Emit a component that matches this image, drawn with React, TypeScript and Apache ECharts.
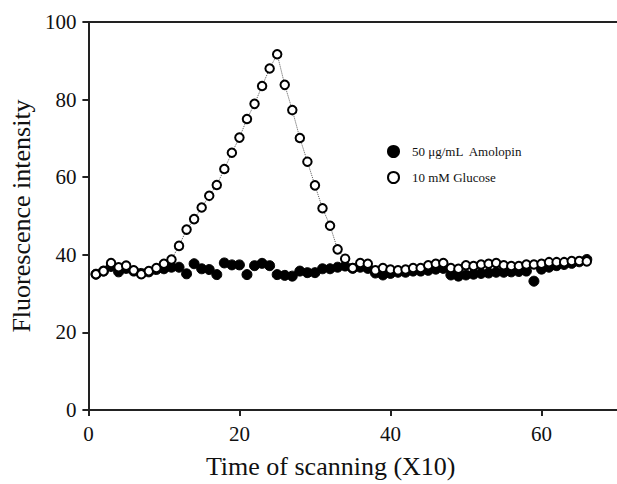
import React, { useEffect, useRef } from "react";
import * as echarts from "echarts";

const scanIndex: number[] = Array.from({ length: 66 }, (_, k) => k + 1);

const amolopin: number[] = [
  35, 35.8, 37, 35.6, 36.5, 35.8, 35.2, 35.6, 36.2, 36.4,
  36.8, 36.8, 35.1, 37.7, 36.4, 36.2, 34.9, 37.9, 37.4, 37.4,
  34.9, 37.2, 37.8, 37.2, 34.9, 34.7, 34.5, 35.8, 35.4, 35.4,
  36.4, 36.4, 36.8, 37.1, 36.5, 36.8, 36.5, 35.3, 34.8, 35.2,
  35.5, 35.5, 35.8, 35.8, 36, 36.3, 36.5, 34.8, 34.5, 34.8,
  35, 35.2, 35.3, 35.5, 35.5, 35.6, 35.7, 35.8, 33.2, 36.3,
  36.8, 37.2, 37.5, 37.8, 38.2, 38.8,
];

const glucose: number[] = [
  35, 35.8, 37.9, 36.8, 37.2, 36, 35, 35.8, 36.6, 37.7,
  38.8, 42.3, 46.5, 49.2, 52.2, 55.2, 58, 62.1, 66.3, 70.2,
  75, 78.9, 83.5, 88, 91.7, 83.8, 77.3, 70.1, 64, 57.9,
  52, 47.5, 41.4, 39, 36.6, 37.9, 37.7, 36, 36.6, 36.2,
  36, 36.2, 36.6, 36.6, 37.3, 37.7, 37.9, 36.6, 36.4, 37.3,
  37.1, 37.5, 37.7, 37.9, 37.3, 37.1, 37.1, 37.5, 37.5, 37.7,
  38.1, 38.1, 38.1, 38.4, 38.4, 38.3,
];

const xTicks = { min: 0, max: 70, interval: 20 };
const yTicks = { min: 0, max: 100, interval: 20 };

const seriesNames = ["50 μg/mL  Amolopin", "10 mM Glucose"];
const xTitle = "Time of scanning (X10)";
const yTitle = "Fluorescence intensity";

const FONT = "'Liberation Serif', 'DejaVu Serif', serif";

export default function App() {
  const ref = useRef<HTMLDivElement>(null);
  useEffect(() => {
    if (!ref.current) return;
    const chart = echarts.init(ref.current, undefined, { renderer: "svg" });
    const axisLine = { show: true, lineStyle: { color: "#222", width: 2 } };
    chart.setOption({
      animation: false,
      backgroundColor: "#fff",
      grid: { left: 87, top: 22, width: 542, height: 390, containLabel: false },
      legend: {
        orient: "vertical",
        left: 382,
        top: 140,
        itemGap: 13,
        itemWidth: 11,
        itemHeight: 11,
        textStyle: { fontFamily: FONT, fontSize: 13, color: "#111", padding: [0, 0, 0, 8] },
        data: [
          { name: seriesNames[0], icon: "circle" },
          { name: seriesNames[1], icon: "circle" },
        ],
      },
      xAxis: [
        {
          type: "value",
          min: xTicks.min,
          max: xTicks.max,
          interval: xTicks.interval,
          position: "bottom",
          axisLine,
          axisTick: { show: true, inside: false, length: 6, lineStyle: { color: "#222", width: 2 } },
          axisLabel: { fontFamily: FONT, fontSize: 21, color: "#111", margin: 13, showMaxLabel: false },
          splitLine: { show: false },
          name: xTitle,
          nameLocation: "middle",
          nameGap: 43,
          nameTextStyle: { fontFamily: FONT, fontSize: 26, color: "#111", padding: [0, 44, 0, 0] },
        },
        {
          type: "value",
          min: xTicks.min,
          max: xTicks.max,
          position: "top",
          axisLine,
          axisTick: { show: false },
          axisLabel: { show: false },
          splitLine: { show: false },
        },
      ],
      yAxis: {
        type: "value",
        min: yTicks.min,
        max: yTicks.max,
        interval: yTicks.interval,
        axisLine,
        axisTick: { show: true, inside: false, length: 6, lineStyle: { color: "#222", width: 2 } },
        axisLabel: { fontFamily: FONT, fontSize: 21, color: "#111", margin: 12 },
        splitLine: { show: false },
        name: yTitle,
        nameLocation: "middle",
        nameGap: 52,
        nameTextStyle: { fontFamily: FONT, fontSize: 26, color: "#111" },
      },
      series: [
        {
          name: seriesNames[0],
          type: "scatter",
          xAxisIndex: 0,
          symbol: "circle",
          symbolSize: 10,
          itemStyle: { color: "#000", borderColor: "#000", borderWidth: 1, opacity: 1 },
          data: scanIndex.map((x, i) => [x, amolopin[i]]),
          z: 2,
        },
        {
          name: seriesNames[1],
          type: "line",
          xAxisIndex: 0,
          symbol: "circle",
          symbolSize: 8.5,
          showSymbol: true,
          lineStyle: { color: "#555", width: 1, type: "dotted" },
          itemStyle: { color: "#fff", borderColor: "#000", borderWidth: 2, opacity: 1 },
          data: scanIndex.map((x, i) => [x, glucose[i]]),
          z: 3,
        },
      ],
    });
    return () => chart.dispose();
  }, []);
  return (
    <div
      ref={ref}
      style={{ position: "fixed", left: 0, top: 0, width: 617, height: 484, background: "#fff" }}
    />
  );
}
